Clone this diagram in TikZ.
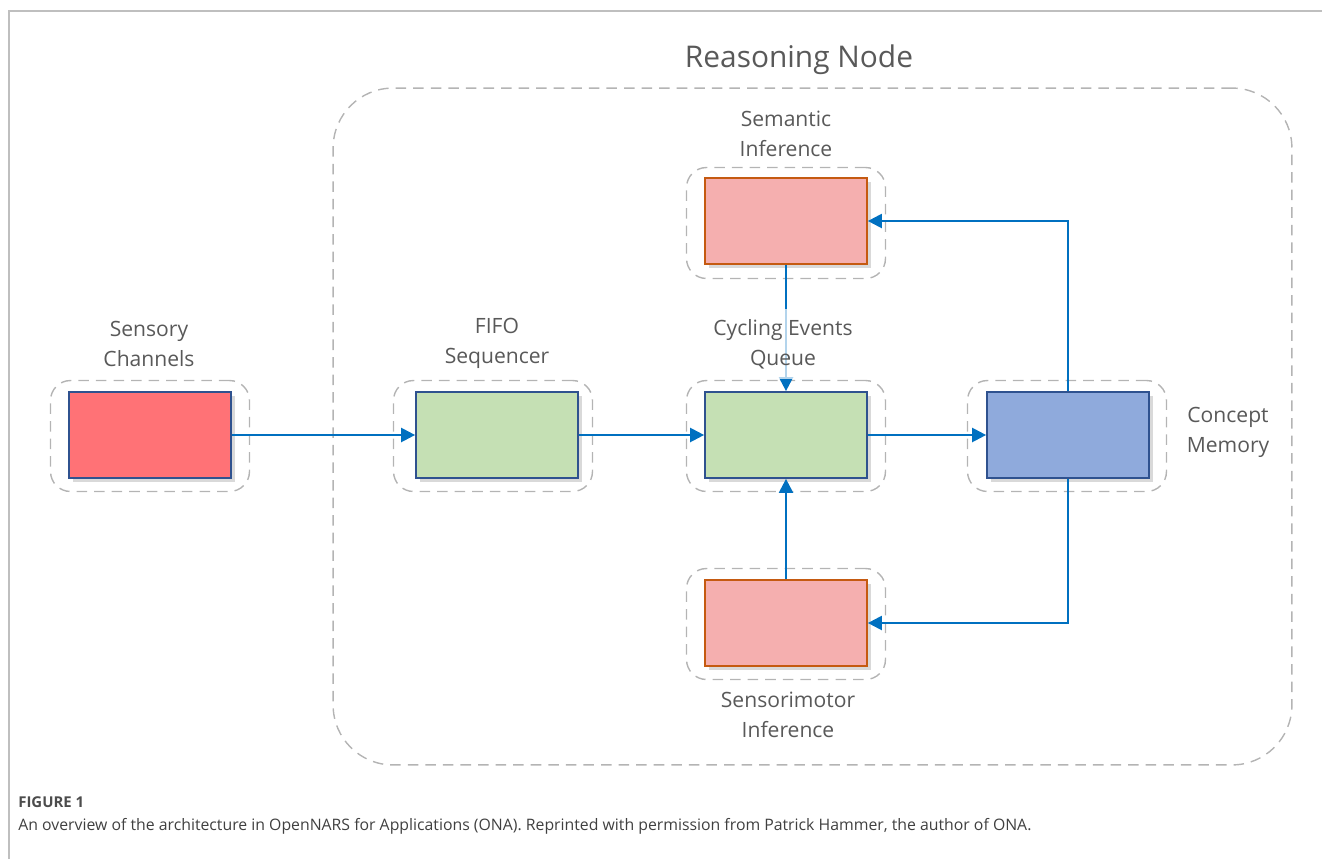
\documentclass[tikz,border=0pt]{standalone}
\usepackage{fontspec}
\setmainfont{Open Sans}
\usetikzlibrary{arrows.meta,shadows}

\definecolor{flowblue}{HTML}{0070C0}
\definecolor{edgeblue}{HTML}{2F528F}
\definecolor{edgeorange}{HTML}{C55A11}
\definecolor{sensred}{HTML}{FF7276}
\definecolor{seqgreen}{HTML}{C5E0B4}
\definecolor{memblue}{HTML}{8FAADC}
\definecolor{infpink}{HTML}{F5AFAF}
\definecolor{grouprim}{HTML}{B4B4B4}
\definecolor{labelgray}{HTML}{595959}

\begin{document}
\begin{tikzpicture}[x=0.02cm, y=-0.02cm,
  module/.style={draw=edgeblue, line width=1pt, minimum width=3.24cm, minimum height=1.72cm, inner sep=0pt,
    drop shadow={opacity=0.3, shadow xshift=2pt, shadow yshift=-2pt}},
  infer/.style={module, draw=edgeorange, fill=infpink},
  group/.style={draw=grouprim, line width=0.8pt, dash pattern=on 6pt off 4pt, rounded corners=0.4cm,
    minimum width=3.98cm, minimum height=2.22cm, inner sep=0pt},
  lbl/.style={font=\fontsize{12}{17}\selectfont, text=labelgray, align=center},
  flow/.style={draw=flowblue, line width=1.3pt, -{Triangle[length=8pt,width=8pt]}}]

\useasboundingbox (0,0) rectangle (1322,859);

% ── Frame ──
\draw[gray!50, line width=0.8pt] (9,859) -- (9,11) -- (1322,11);

% ── Reasoning node ──
\node[draw=grouprim, line width=0.8pt, dash pattern=on 6pt off 4pt, rounded corners=1.2cm,
  minimum width=19.18cm, minimum height=13.54cm, inner sep=0pt] (reasoning) at (812.5,426.5) {};
\node[font=\fontsize{17}{20}\selectfont, text=labelgray] (title) at (799,60) {Reasoning Node};

% Dashed groups round the modules
\foreach \name/\x/\y in {sens/150/436, fifo/493/436, queue/786/436, concept/1067/436,
  semantic/786/223, sensorimotor/786/624} {
  \node[group] (\name-grp) at (\x,\y) {};
}

% Modules
\node[module, fill=sensred] (sens) at (150,435) {};
\node[module, fill=seqgreen] (fifo) at (497,435) {};
\node[module, fill=seqgreen] (queue) at (786,435) {};
\node[module, fill=memblue] (concept) at (1068,435) {};
\node[infer] (semantic) at (786,221) {};
\node[infer] (sensorimotor) at (786,623) {};

% ── Flows ──
\draw[flow] (sens) -- (fifo);
\draw[flow] (fifo) -- (queue);
\draw[flow] (queue) -- (concept);
\draw[flow] (concept.north) |- (semantic.east);
\draw[flow] (concept.south) |- (sensorimotor.east);
\draw[flow] (sensorimotor.north) -- (queue.south);
\draw[flow] (semantic.south) -- (queue.north);

% Labels
\node[lbl] (sens-lbl) at (149,344) {Sensory\\Channels};
\node[lbl] (fifo-lbl) at (497,343) {FIFO\\Sequencer};
\node[lbl, fill=white, fill opacity=0.7, text opacity=1, inner ysep=6pt] (queue-lbl) at (783,344) {Cycling Events\\Queue};
\node[lbl] (concept-lbl) at (1228,432) {Concept\\Memory};
\node[lbl] (semantic-lbl) at (786,134) {Semantic\\Inference};
\node[lbl] (sensorimotor-lbl) at (788,715) {Sensorimotor\\Inference};

% ── Caption ──
\node[font=\fontsize{8.5}{10}\selectfont\bfseries, text=black!70, anchor=base west, inner sep=0pt] (figtag) at (18,807) {FIGURE 1};
\node[font=\fontsize{9}{11}\selectfont, text=black!75, anchor=base west, inner sep=0pt] (caption) at (18,830)
  {An overview of the architecture in OpenNARS for Applications (ONA). Reprinted with permission from Patrick Hammer, the author of ONA.};

\end{tikzpicture}
\end{document}
